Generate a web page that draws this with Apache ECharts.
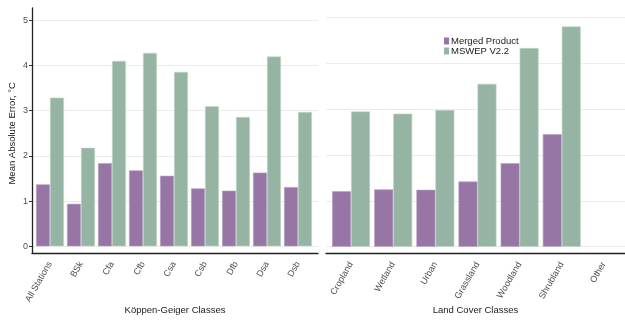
<!DOCTYPE html>
<html>
<head>
<meta charset="utf-8">
<script src="https://cdn.jsdelivr.net/npm/echarts@6/dist/echarts.min.js"></script>
<style>
  html, body { margin: 0; padding: 0; background: #fff; }
  #chart { width: 625px; height: 320px; }
</style>
</head>
<body>
<div id="chart"></div>
<script>
// Köppen-Geiger panel
const koppenClasses = ['All Stations', 'BSk', 'Cfa', 'Cfb', 'Csa', 'Csb', 'Dfb', 'Dsa', 'Dsb']
const koppenMerged = [1.37, 0.94, 1.84, 1.68, 1.56, 1.28, 1.23, 1.63, 1.31]
const koppenMswep = [3.29, 2.18, 4.10, 4.28, 3.86, 3.10, 2.86, 4.20, 2.97]

// Land cover panel
const landClasses = ['Cropland', 'Wetland', 'Urban', 'Grassland', 'Woodland', 'Shrubland', 'Other']
const landMerged = [1.21, 1.25, 1.24, 1.42, 1.82, 2.45, null]
const landMswep = [2.95, 2.90, 2.98, 3.55, 4.33, 4.80, null]

const yTicks = [0, 1, 2, 3, 4, 5]

const purple = '#9776a6'
const green = '#95b4a3'
const gridLine = '#ebebeb'
const axisDark = '#222222'
const font = 'Liberation Sans'

const chart = echarts.init(document.getElementById('chart'))

const hiddenValue = (gridIndex) => ({
  type: 'value', gridIndex: gridIndex, min: 0, max: 1, show: false
})

const barAxisX = (gridIndex, data) => ({
  type: 'category',
  gridIndex: gridIndex,
  data: data,
  offset: 11,
  axisLine: { show: false },
  axisTick: { show: false },
  axisLabel: {
    rotate: 60,
    margin: 5,
    interval: 0,
    fontFamily: font,
    fontSize: 9,
    color: '#4d4d4d'
  }
})

const frameAxisX = (gridIndex, name) => ({
  type: 'value',
  gridIndex: gridIndex,
  min: 0,
  max: 1,
  axisLine: { show: true, onZero: false, lineStyle: { color: axisDark, width: 1.3 } },
  axisTick: { show: false },
  axisLabel: { show: false },
  splitLine: { show: false },
  name: name,
  nameLocation: 'middle',
  nameGap: 52,
  nameTextStyle: { fontFamily: font, fontSize: 9.5, color: '#1a1a1a' }
})

const splitAxisY = (gridIndex, showLabels) => ({
  type: 'value',
  gridIndex: gridIndex,
  min: yTicks[0],
  max: yTicks[yTicks.length - 1],
  interval: 1,
  axisLine: { show: false },
  axisTick: { show: showLabels, length: 3, lineStyle: { color: '#333' } },
  axisLabel: {
    show: showLabels,
    margin: 4,
    fontFamily: font,
    fontSize: 9,
    color: '#4d4d4d'
  },
  splitLine: { show: true, lineStyle: { color: gridLine, width: 1 } },
  name: showLabels ? 'Mean Absolute Error, °C' : '',
  nameLocation: 'middle',
  nameGap: 15,
  nameTextStyle: { fontFamily: font, fontSize: 9.5, color: '#1a1a1a' }
})

const barSeries = (name, data, axisIndex, color, border) => ({
  name: name,
  type: 'bar',
  xAxisIndex: axisIndex,
  yAxisIndex: axisIndex,
  data: data,
  barGap: '0%',
  barCategoryGap: '10%',
  itemStyle: { color: color, borderColor: border, borderWidth: 0.6 }
})

chart.setOption({
  animation: false,
  backgroundColor: '#fff',
  textStyle: { fontFamily: font },
  legend: {
    data: ['Merged Product', 'MSWEP V2.2'],
    orient: 'vertical',
    left: 444,
    top: 36,
    padding: 0,
    itemGap: 0,
    itemWidth: 5,
    itemHeight: 7,
    icon: 'rect',
    itemStyle: { borderWidth: 0 },
    textStyle: {
      fontFamily: font,
      fontSize: 9.5,
      color: '#1a1a1a',
      lineHeight: 7,
      padding: [0, 0, 0, -3]
    }
  },
  grid: [
    // left panel: bars, grid lines, axis lines
    { left: 34.5, top: 20.3, width: 279, height: 226 },
    { left: 32, top: 20.3, width: 286, height: 226 },
    { left: 32, top: 8, width: 286, height: 249.3 },
    // right panel
    { left: 330, top: 17.3, width: 301, height: 229.4 },
    { left: 326, top: 17.3, width: 309, height: 229.4 },
    { left: 326, top: 8, width: 309, height: 251 }
  ],
  xAxis: [
    barAxisX(0, koppenClasses),
    hiddenValue(1),
    frameAxisX(2, 'Köppen-Geiger Classes'),
    barAxisX(3, landClasses),
    hiddenValue(4),
    frameAxisX(5, 'Land Cover Classes')
  ],
  yAxis: [
    { type: 'value', gridIndex: 0, min: 0, max: 5, show: false },
    splitAxisY(1, true),
    {
      type: 'value', gridIndex: 2, min: 0, max: 1,
      axisLine: { show: true, onZero: false, lineStyle: { color: axisDark, width: 1.3 } },
      axisTick: { show: false }, axisLabel: { show: false }, splitLine: { show: false }
    },
    { type: 'value', gridIndex: 3, min: 0, max: 5, show: false },
    splitAxisY(4, false),
    hiddenValue(5)
  ],
  series: [
    barSeries('Merged Product', koppenMerged, 0, purple, '#b39fc0'),
    barSeries('MSWEP V2.2', koppenMswep, 0, green, '#c3d6cb'),
    barSeries('Merged Product', landMerged, 3, purple, '#b39fc0'),
    barSeries('MSWEP V2.2', landMswep, 3, green, '#c3d6cb')
  ]
})
</script>
</body>
</html>
